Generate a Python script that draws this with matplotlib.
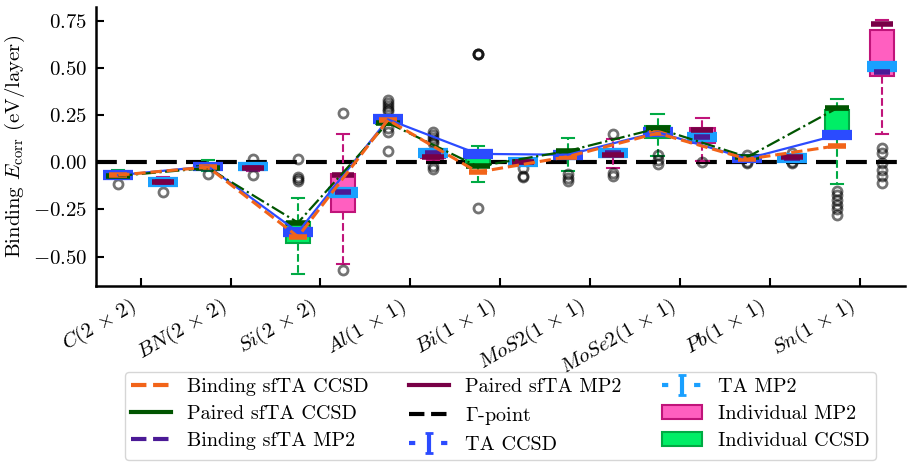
import numpy as np
import matplotlib
matplotlib.use('Agg')
import matplotlib.pyplot as plt
from matplotlib.lines import Line2D
from matplotlib.patches import Patch

plt.rcParams['font.family'] = 'serif'
plt.rcParams['font.serif'] = ['cmr10']
plt.rcParams['mathtext.fontset'] = 'cm'
plt.rcParams['axes.formatter.use_mathtext'] = True

systems = [r'$C(2\,\times\,2)$', r'$BN(2\,\times\,2)$', r'$Si(2\,\times\,2)$', r'$Al(1\,\times\,1)$',
           r'$Bi(1\,\times\,1)$', r'$MoS2(1\,\times\,1)$', r'$MoSe2(1\,\times\,1)$',
           r'$Pb(1\,\times\,1)$', r'$Sn(1\,\times\,1)$']

# sfTA / TA results (eV/layer)
binding_ccsd = [-0.068, -0.025, -0.395, 0.225, -0.052, 0.03, 0.155, 0.017, 0.088]
paired_ccsd = [-0.072, -0.03, -0.32, 0.21, -0.022, 0.06, 0.18, 0.028, 0.288]
ta_ccsd = [-0.068, -0.022, -0.37, 0.228, 0.045, 0.04, 0.16, 0.02, 0.145]
ta_ccsd_err = [0.01, 0.01, 0.012, 0.01, 0.01, 0.01, 0.01, 0.01, 0.012]
binding_mp2 = [-0.105, -0.03, -0.16, 0.05, 0.0, 0.05, 0.133, 0.025, 0.48]
paired_mp2 = [-0.105, -0.028, -0.065, 0.03, 0.0, 0.04, 0.17, 0.03, 0.735]
ta_mp2 = [-0.105, -0.022, -0.16, 0.05, 0.002, 0.05, 0.135, 0.025, 0.51]
ta_mp2_err = [0.01, 0.01, 0.012, 0.01, 0.01, 0.01, 0.01, 0.01, 0.012]

# individual twist angles, box statistics
ccsd_q1 = [-0.075, -0.035, -0.43, 0.205, -0.015, 0.017, 0.13, 0.01, 0.13]
ccsd_q3 = [-0.06, -0.015, -0.318, 0.225, 0.055, 0.06, 0.195, 0.03, 0.278]
ccsd_lo = [-0.085, -0.045, -0.59, 0.2, -0.105, -0.045, 0.035, 0.005, -0.115]
ccsd_hi = [-0.04, 0.01, -0.19, 0.235, 0.088, 0.13, 0.255, 0.035, 0.335]
ccsd_fliers = [[-0.115], [-0.06], [0.02, -0.08, -0.09, -0.1],
               [0.33, 0.315, 0.3, 0.285, 0.27, 0.18, 0.16, 0.06],
               [0.575, 0.575, 0.575, -0.245], [-0.06, -0.085, -0.1],
               [0.04, 0.015, -0.01], [0.04, 0.0, -0.005],
               [-0.15, -0.175, -0.2, -0.225, -0.25, -0.28]]
mp2_q1 = [-0.115, -0.04, -0.265, 0.025, -0.005, 0.03, 0.10, 0.02, 0.46]
mp2_q3 = [-0.095, -0.015, -0.063, 0.055, 0.005, 0.07, 0.18, 0.035, 0.70]
mp2_lo = [-0.12, -0.045, -0.54, 0.015, -0.01, -0.03, 0.008, 0.015, 0.15]
mp2_hi = [-0.078, -0.01, 0.15, 0.07, 0.01, 0.125, 0.235, 0.04, 0.757]
mp2_fliers = [[-0.155], [0.02, -0.065], [0.26, -0.572],
              [0.16, 0.145, 0.13, 0.115, 0.1, -0.02, -0.035],
              [-0.03, -0.075, -0.08], [0.15, -0.055, -0.075],
              [0.0], [0.05, 0.0, -0.005],
              [0.075, 0.05, -0.005, -0.04, -0.075, -0.11]]

c_orange = '#f26419'
c_dgreen = '#005500'
c_purple = '#4b1a96'
c_maroon = '#780046'
c_blue = '#2b4bff'
c_lblue = '#1aa0ff'
c_pink = '#ff5fc0'
c_pink_edge = '#c0147a'
c_green = '#00ee66'
c_green_edge = '#00aa44'


def box_stats(q1, q3, lo, hi, fl):
    return [dict(med=a, q1=a, q3=b, whislo=c, whishi=d, fliers=f)
            for a, b, c, d, f in zip(q1, q3, lo, hi, fl)]


fig = plt.figure(figsize=(9.12, 4.66), dpi=100)
ax = fig.add_axes([0.105, 0.386, 0.887, 0.598])

x = np.arange(len(systems))
xc = x - 0.25
xm = x + 0.25

ax.axhline(0, color='k', ls=(0, (5, 2.2)), lw=3, zorder=1)

flier = dict(marker='o', mfc='none', mec='k', alpha=0.55, ms=6.5, mew=2)
for stats, pos, fc, ec in [(box_stats(ccsd_q1, ccsd_q3, ccsd_lo, ccsd_hi, ccsd_fliers), xc, c_green, c_green_edge),
                           (box_stats(mp2_q1, mp2_q3, mp2_lo, mp2_hi, mp2_fliers), xm, c_pink, c_pink_edge)]:
    ax.bxp(stats, positions=pos, widths=0.27, patch_artist=True, manage_ticks=False,
           boxprops=dict(facecolor=fc, edgecolor=ec, lw=1.5),
           whiskerprops=dict(color=ec, ls='--', lw=1.5),
           capprops=dict(color=ec, lw=1.5),
           medianprops=dict(visible=False),
           flierprops=flier, zorder=2)

eb = dict(fmt='_', ls='none', elinewidth=2, capsize=10.5, capthick=2.5, mew=4.5, ms=18, zorder=3)
ax.errorbar(xc, ta_ccsd, yerr=ta_ccsd_err, color=c_blue, ecolor=c_blue, **eb)
ax.errorbar(xm, ta_mp2, yerr=ta_mp2_err, color=c_lblue, ecolor=c_lblue, **eb)
ax.plot(xc, paired_ccsd, '_', color=c_dgreen, ms=17, mew=4, zorder=3.5)
ax.plot(xc, binding_ccsd, '_', color=c_orange, ms=13, mew=4, zorder=4)
ax.plot(xm, binding_mp2, '_', color=c_purple, ms=12, mew=4, zorder=3.5)
ax.plot(xm, paired_mp2, '_', color=c_maroon, ms=16, mew=4, zorder=4)

ax.plot(xc, ta_ccsd, '-', color=c_blue, lw=1.6, zorder=5)
ax.plot(xc, paired_ccsd, '-.', color=c_dgreen, lw=1.6, zorder=5)
ax.plot(xc, binding_ccsd, '--', color=c_orange, lw=2.2, zorder=5)

# legend handles
ta_kw = dict(ls=(0, (1.5, 6.2)), lw=3, elinewidth=3, capsize=3, capthick=2)
h_ta_ccsd = ax.errorbar([np.nan], [np.nan], yerr=[np.nan], color=c_blue, **ta_kw)
h_ta_mp2 = ax.errorbar([np.nan], [np.nan], yerr=[np.nan], color=c_lblue, **ta_kw)
handles = [
    Line2D([], [], color=c_orange, ls='--', lw=3),
    Line2D([], [], color=c_dgreen, ls='-', lw=3),
    Line2D([], [], color=c_purple, ls='--', lw=3),
    Line2D([], [], color=c_maroon, ls='-', lw=3),
    Line2D([], [], color='k', ls='--', lw=3),
    h_ta_ccsd,
    h_ta_mp2,
    Patch(facecolor=c_pink, edgecolor=c_pink_edge, lw=1.5),
    Patch(facecolor=c_green, edgecolor=c_green_edge, lw=1.5),
]
labels = ['Binding sfTA CCSD', 'Paired sfTA CCSD', 'Binding sfTA MP2',
          'Paired sfTA MP2', r'$\Gamma$-point', 'TA CCSD',
          'TA MP2', 'Individual MP2', 'Individual CCSD']
ax.legend(handles, labels, ncol=3, loc='upper center', bbox_to_anchor=(0.5, -0.272),
          fontsize=14.5, labelspacing=0.45, borderpad=0.3, handletextpad=0.8,
          columnspacing=2.0)

ax.set_xlim(-0.5, 8.5)
ax.set_ylim(-0.657, 0.822)
ax.set_xticks(x)
ax.set_xticklabels(systems, rotation=30, ha='right')
ax.set_yticks([-0.5, -0.25, 0.0, 0.25, 0.5, 0.75])
ax.set_ylabel(r'Binding $E_{\mathrm{corr}}$ (eV/layer)', fontsize=15)
ax.tick_params(direction='in', length=6, width=1.5, labelsize=15, pad=6)
for side in ['top', 'right']:
    ax.spines[side].set_visible(False)
for side in ['left', 'bottom']:
    ax.spines[side].set_linewidth(1.8)

fig.savefig('out.png', dpi=100)
